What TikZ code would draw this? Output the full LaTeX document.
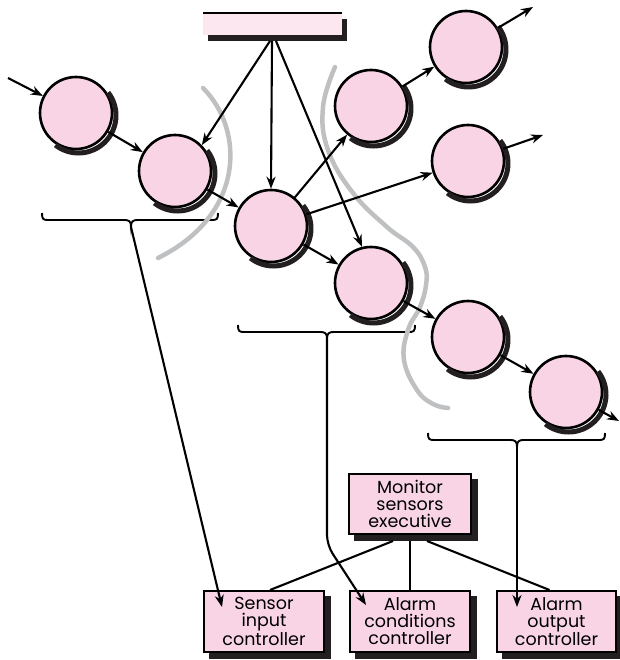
\documentclass[tikz,border=0pt]{standalone}
\usepackage{fontspec}
\setmainfont{Poppins}
\usetikzlibrary{arrows.meta}
\definecolor{pinkc}{HTML}{F8D4E5}
\definecolor{barpink}{HTML}{FCE6F0}
\definecolor{grayc}{HTML}{BFC0C2}
\definecolor{shadowc}{HTML}{231F20}
\newcommand\mybrace[4]{% #1=x left, #2=x right, #3=x tip, #4=y of ends
  \draw[bracel] (#1,#4) .. controls (#1,#4+6) and (#1+1,#4+7) .. (#1+6,#4+7)
    -- (#3-7,#4+7) .. controls (#3-2,#4+7) and (#3,#4+8) .. (#3,#4+14)
    .. controls (#3,#4+8) and (#3+2,#4+7) .. (#3+7,#4+7)
    -- (#2-6,#4+7) .. controls (#2-1,#4+7) and (#2,#4+6) .. (#2,#4);}
\newcommand\bub[3]{% name, x, y
  \node[bubble] (#1) at (#2,#3) {};
  \draw[shadowc,line width=5pt] (#2,#3) ++(2.5,2.5) ++(-38:37.5)
    arc[start angle=-38,end angle=128,radius=37.5];}
\newcommand\modbox[6]{% name, x, y, outer w, outer h, text
  \node[box,minimum width=#4pt-2.2pt,minimum height=#5pt-2.2pt] (#1) at (#2,#3) {#6};
  \draw[shadowc,line width=6pt] (#2+#4/2+3,#3-#5/2+6) -- (#2+#4/2+3,#3+#5/2+3) -- (#2-#4/2+6,#3+#5/2+3);}
\begin{document}
\begin{tikzpicture}[x=1pt,y=-1pt,
  bubble/.style={circle,draw,line width=2.6pt,fill=pinkc,minimum size=72pt,inner sep=0pt},
  box/.style={rectangle,draw,line width=2.2pt,fill=pinkc,
    inner sep=0pt,align=center,font=\fontsize{17.5}{17}\selectfont},
  arr/.style={line width=2.1pt,-{Stealth[length=12pt,width=9pt]}},
  ln/.style={line width=2.1pt},
  part/.style={line width=4.5pt,draw=grayc,line cap=round},
  bracel/.style={line width=1.9pt}]
\useasboundingbox (0,0) rectangle (619,660);

% data store bar
\node[rectangle,fill=barpink,minimum width=139pt,minimum height=22pt,inner sep=0pt,outer sep=0pt] (bar) at (272.5,24) {};
\draw[line width=1.8pt] (bar.north west) -- (bar.north east);
\draw[shadowc,line width=5.5pt] (344.5,19) -- (344.5,38) -- (208,38);

% bubbles
\bub{c1}{76}{113}
\bub{c2}{175}{171}
\bub{c3}{271}{226}
\bub{c4}{371}{106}
\bub{c5}{466}{47}
\bub{c6}{468}{161}
\bub{c7}{371}{283}
\bub{c8}{468}{337}
\bub{c9}{566}{392}

% module boxes
\modbox{mon}{410}{504}{124}{62}{Monitor\\sensors\\executive}
\modbox{sic}{264}{621.5}{122}{63}{Sensor\\input\\controller}
\modbox{acc}{410}{621.5}{122}{63}{Alarm\\conditions\\controller}
\modbox{aoc}{556.5}{621.5}{121}{63}{Alarm\\output\\controller}

% braces
\mybrace{42}{218}{131}{213}
\mybrace{238}{415}{327}{325}
\mybrace{428}{605}{517}{433}
\coordinate (b1) at (131,227);
\coordinate (b2) at (327,339);
\coordinate (b3) at (517,447);

% partition curves
\draw[part] (203,88) .. controls (245,130) and (245,215) .. (158,258);
\draw[part] plot[smooth,tension=0.7] coordinates {(335,67) (323,107) (328,150) (353,193) (387,227) (413,247) (425,267) (426,285) (420,307) (408,330) (404,360) (417,390) (433,404) (448,408)};

% flow arrows
\coordinate (in1) at (8,78);
\coordinate (out5) at (533,7);
\coordinate (out6) at (543,135);
\coordinate (out9) at (619,421);
\coordinate (bs1) at (270,41);
\coordinate (bs2) at (272,41);
\coordinate (bs3) at (276,41);
\draw[arr] (in1) -- (c1);
\draw[arr] (c1) -- (c2);
\draw[arr] (c2) -- (c3);
\draw[arr] (bs1) -- (c2.44);
\draw[arr] (bs2) -- (c3.north);
\draw[arr] (bs3) -- (c7.104);
\draw[arr] (c3) -- (c4);
\draw[arr] (c3) -- (c6);
\draw[arr] (c3) -- (c7);
\draw[arr] (c4) -- (c5);
\draw[arr] (c5) -- (out5);
\draw[arr] (c6) -- (out6);
\draw[arr] (c7) -- (c8);
\draw[arr] (c8) -- (c9);
\draw[arr] (c9) -- (out9);

% module links
\draw[ln] ([xshift=-17pt,yshift=-6pt]mon.south) -- ([xshift=6pt]sic.north);
\draw[ln] ([yshift=-6pt]mon.south) -- (acc.north);
\draw[ln] ([xshift=17pt,yshift=-6pt]mon.south) -- ([xshift=-7pt]aoc.north);

% mapping arrows
\coordinate (t1) at (222,607);
\coordinate (k2) at (327,545);
\coordinate (t2) at (366,605);
\coordinate (t3) at (517,607);
\draw[arr] (b1) -- (t1);
\draw[arr,rounded corners=10pt] (b2) -- (k2) -- (t2);
\draw[arr] (b3) -- (t3);
\end{tikzpicture}
\end{document}
